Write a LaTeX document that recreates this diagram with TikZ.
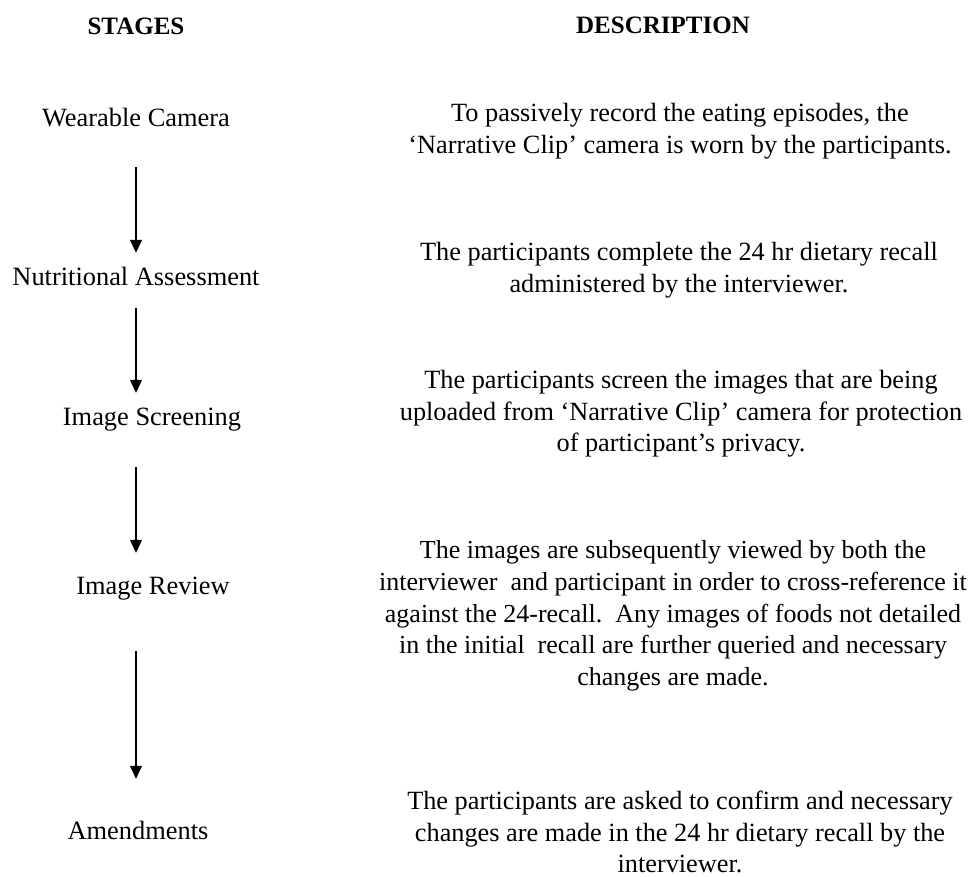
\documentclass[tikz,border=0pt]{standalone}
\usepackage{fontspec}
\setmainfont{Liberation Serif}
\usepackage{tikz}
\usetikzlibrary{arrows.meta}

\begin{document}
\begin{tikzpicture}[x=1pt,y=-1pt,-,auto,
	stage node/.style={inner sep=0pt, text height=21pt, text depth=3pt, font=\fontsize{26.4}{31.7}\selectfont},
	desc node/.style={inner sep=0pt, align=center, font=\fontsize{26.3}{31.7}\selectfont},
	head node/.style={inner sep=0pt, font=\fontsize{25}{30}\selectfont\bfseries},
	flow/.style={-{Triangle[width=12pt,length=13pt]}, line width=1.2pt}]
			\useasboundingbox (0,0) rectangle (970,877);
			% Headers
			\node [head node] (h1) at (136,26) {STAGES};
			\node [head node] (h2) at (663,25) {DESCRIPTION};
			
			% Stages
			\node [stage node] (1) at (136,118) {Wearable Camera};
			\node [stage node] (2) at (136,277) {Nutritional Assessment};
			\node [stage node] (3) at (152,417) {Image Screening};
			\node [stage node] (4) at (153,585) {Image Review};
			\node [stage node] (5) at (138,830) {Amendments};
			
			% Descriptions
			\node [desc node] (6) at (680,131) {To passively record the eating episodes, the\\
				`Narrative Clip' camera is worn by the participants.};
			\node [desc node] (7) at (679,270) {The participants complete the 24 hr dietary recall\\
				administered by the interviewer.};
			\node [desc node] (8) at (681,414) {The participants screen the images that are being\\
				uploaded from `Narrative Clip' camera for protection\\
				of participant's privacy.};
			\node [desc node, font=\fontsize{26}{31.7}\selectfont] (9) at (673,616) {The images are subsequently viewed by both the\\
				interviewer\ \ and participant in order to cross-reference it\\
				against the 24-recall.\ \ Any images of foods not detailed\\
				in the initial\ \ recall are further queried and necessary\\
				changes are made.};
			\node [desc node] (10) at (680,832) {The participants are asked to confirm and necessary\\
				changes are made in the 24 hr dietary recall by the\\
				interviewer.};
			
			% Arrows
			\draw [flow, shorten <=37pt, shorten >=12pt] (1 |- 1.south) -- (1 |- 2.north);
			\draw [flow, shorten <=19pt, shorten >=12pt] (1 |- 2.south) -- (1 |- 3.north);
			\draw [flow, shorten <=38pt, shorten >=20pt] (1 |- 3.south) -- (1 |- 4.north);
			\draw [flow, shorten <=54pt, shorten >=39pt] (1 |- 4.south) -- (1 |- 5.north);
			
		\end{tikzpicture}
\end{document}
